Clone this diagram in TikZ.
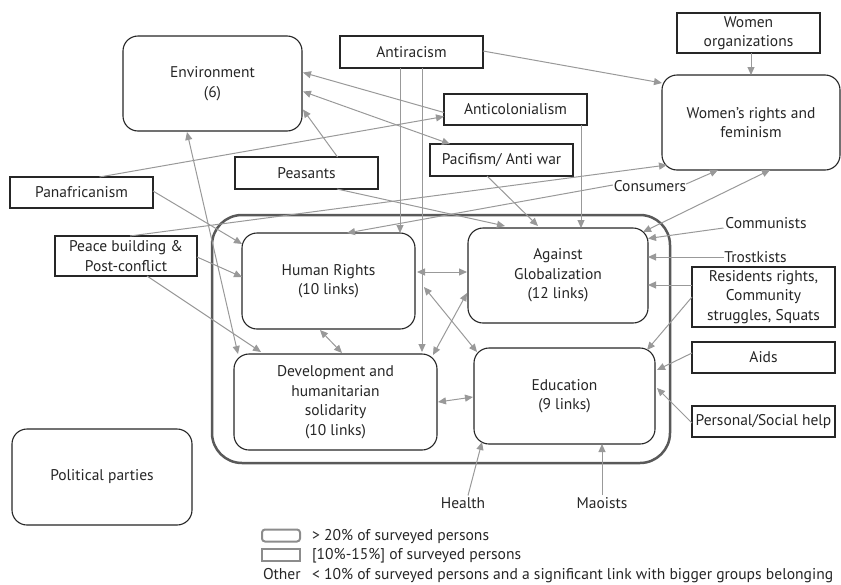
\documentclass[tikz,border=0pt]{standalone}
\usepackage{fontspec}
\setmainfont{PT Sans}
\usetikzlibrary{calc,arrows.meta}
\begin{document}
\begin{tikzpicture}[x=1pt,y=-1pt,
  every node/.style={font=\fontsize{15.5}{19.5}\selectfont, text=black!85, align=center, inner sep=0pt, outer sep=0pt},
  bigbox/.style={draw=black!85, fill=white, line width=1.1pt, rounded corners=15pt},
  smallbox/.style={draw=black!85, fill=white, line width=1.1pt},
  lbl/.style={},
  legtext/.style={anchor=base west, font=\fontsize{15.6}{19.5}\selectfont},
  conn/.style={draw=black!40, line width=1pt, -{Triangle[length=8pt,width=7pt]}},
  biconn/.style={draw=black!40, line width=1pt, {Triangle[length=8pt,width=7pt]}-{Triangle[length=8pt,width=7pt]}},
  legbox/.style={draw=black!45, line width=2pt, minimum width=38pt, minimum height=12pt}]
\useasboundingbox (0,0) rectangle (841,584);

% outer frame
\node[draw=black!65, line width=2.5pt, rounded corners=30pt, minimum width=458pt, minimum height=248pt] (frame) at (441,339) {};

% big groups
\node[bigbox, minimum width=179pt, minimum height=95pt] (env) at (212.5,83.5) {Environment\\(6)};
\node[bigbox, minimum width=178pt, minimum height=95pt] (wr) at (751,122.5) {Women’s rights and\\feminism};
\node[bigbox, minimum width=173pt, minimum height=96pt] (hr) at (328.5,281) {Human Rights\\(10 links)};
\node[bigbox, minimum width=180pt, minimum height=95pt] (ag) at (558,275.5) {Against\\Globalization\\(12 links)};
\node[bigbox, minimum width=203pt, minimum height=96pt] (dev) at (335.5,402) {Development and\\humanitarian\\solidarity\\(10 links)};
\node[bigbox, minimum width=181pt, minimum height=96pt] (edu) at (564.5,396) {Education\\(9 links)};
\node[bigbox, minimum width=180pt, minimum height=96pt] (pp) at (102,477) {Political parties};

% small groups
\node[smallbox, minimum width=143pt, minimum height=32pt] (ar) at (411.5,52) {Antiracism};
\node[smallbox, minimum width=143pt, minimum height=40pt] (wo) at (748.5,33) {Women\\organizations};
\node[smallbox, minimum width=143pt, minimum height=31pt] (ac) at (515.5,109.5) {Anticolonialism};
\node[smallbox, minimum width=143pt, minimum height=32pt] (pac) at (501.5,160) {Pacifism/ Anti war};
\node[smallbox, minimum width=143pt, minimum height=32pt] (peas) at (306.5,173) {Peasants};
\node[smallbox, minimum width=143pt, minimum height=31pt] (pan) at (81.5,192.5) {Panafricanism};
\node[smallbox, minimum width=142pt, minimum height=40pt] (pb) at (126,256) {Peace building \&\\Post-conflict};
\node[smallbox, minimum width=143pt, minimum height=60pt] (res) at (763.5,297) {Residents rights,\\Community\\struggles, Squats};
\node[smallbox, minimum width=143pt, minimum height=31pt] (aids) at (763.5,357.5) {Aids};
\node[smallbox, minimum width=143pt, minimum height=31pt] (pers) at (763.5,421.5) {Personal/Social help};

% text-only groups
\node[lbl] (cons) at (650,186) {Consumers};
\node[lbl] (comm) at (766,223) {Communists};
\node[lbl] (trost) at (755.5,257) {Trostkists};
\node[lbl] (health) at (463,503) {Health};
\node[lbl] (mao) at (602,503) {Maoists};

% connectors
\draw[conn] ($(ac.west)+(0,3)$) -- ($(env.east)+(1,-11)$);
\draw[biconn] ($(env.east)+(1,8)$) -- ($(pac.north west)+(20,0)$);
\draw[conn] ($(peas.north)+(31,0)$) -- ($(env.east)+(1,26)$);
\draw[conn] ($(pan.north)+(18,0)$) -- ($(ac.west)+(0,7)$);
\draw[conn] ($(ar.south)+(-11.5,0)$) -- ($(hr.north)+(71.5,0)$);
\draw[conn] ($(ar.south)+(10.5,0)$) -- ($(dev.north)+(86.5,-2)$);
\draw[conn] ($(ar.east)+(0,-1)$) -- ($(wr.west)+(0,-39.5)$);
\draw[conn] ($(ac.south)+(65.5,0)$) -- ($(ag.north)+(23,0)$);
\draw[conn] ($(pac.south)+(-14.5,0)$) -- ($(ag.north)+(-20,-2)$);
\draw[conn] ($(peas.south)+(30.5,0)$) -- ($(ag.north west)+(37,-2)$);
\draw[conn] ($(pb.north)+(4,0)$) -- ($(wr.south west)+(5,-5)$);
\draw[conn] ($(cons.west)+(-1,-1)$) -- ($(hr.north)+(18.5,0)$);
\draw[conn] ($(cons.east)+(0,-2)$) -- ($(wr.south west)+(56,0)$);
\draw[biconn] ($(wr.south)+(19,0)$) -- ($(ag.north east)+(-5,4)$);
\draw[conn] ($(comm.west)+(-2,5)$) -- ($(ag.east)+(0,-37)$);
\draw[conn] (trost.west) -- ($(ag.east)+(0,-18.5)$);
\draw[conn] ($(res.west)+(0,-12)$) -- ($(ag.east)+(0,9.5)$);
\draw[conn] (res.west) -- ($(edu.north east)+(-8,2)$);
\draw[conn] ($(aids.west)+(0,-4.5)$) -- ($(edu.east)+(2,-26)$);
\draw[conn] ($(pers.west)+(0,1.5)$) -- ($(edu.east)+(2,-8)$);
\draw[conn] ($(health.north)+(5,-2)$) -- ($(edu.south west)+(8,-2)$);
\draw[conn] ($(mao.north)+(0,-2)$) -- ($(edu.south)+(37.5,0)$);
\draw[biconn] ($(dev.east)+(1,0)$) -- ($(edu.west)+(-1,1)$);
\draw[biconn] ($(hr.east)+(2,-9)$) -- ($(ag.west)+(-1,-3.5)$);
\draw[biconn] ($(hr.east)+(9,6)$) -- ($(edu.north west)+(3,4)$);
\draw[biconn] ($(ag.west)+(-1,17.5)$) -- ($(dev.north east)+(-4,1)$);
\draw[biconn] ($(hr.south)+(-8.5,1)$) -- ($(dev.north)+(6.5,-1)$);
\draw[conn] ($(pan.east)+(0,-1.5)$) -- ($(hr.north west)+(0,11)$);
\draw[conn] ($(pb.east)+(0,1)$) -- ($(hr.west)+(0,-4)$);
\draw[conn] ($(pb.south)+(21,0)$) -- ($(dev.north west)+(27,-2)$);
\draw[biconn] ($(env.south)+(-25.5,1)$) -- ($(dev.north west)+(4,0)$);
\draw[conn] ($(wo.south)+(2.5,0)$) -- (wr.north);

% legend
\node[legbox, rounded corners=3pt] (lg1) at (281,535.5) {};
\node[legbox] (lg2) at (281,555) {};
\node[legtext] (lt1) at (312,540.5) {> 20\% of surveyed persons};
\node[legtext] (lt2) at (312,559.5) {[10\%-15\%] of surveyed persons};
\node[legtext] (lt0) at (263,579) {Other};
\node[legtext] (lt3) at (312,579) {< 10\% of surveyed persons and a significant link with bigger groups belonging};
\end{tikzpicture}
\end{document}
